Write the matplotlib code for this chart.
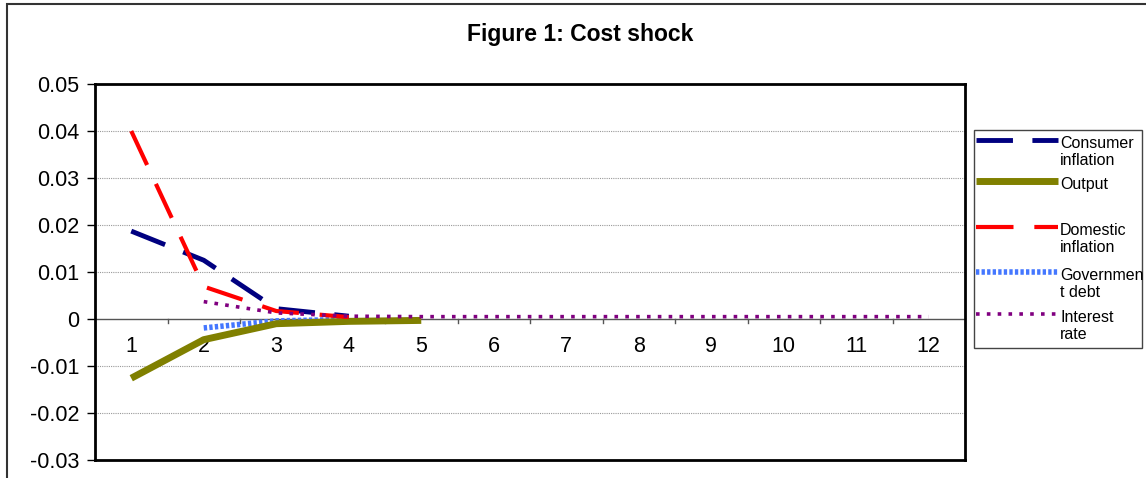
import matplotlib
matplotlib.use("Agg")
import matplotlib.pyplot as plt
from matplotlib.patches import Rectangle
from matplotlib.lines import Line2D

plt.rcParams['font.family'] = ['Liberation Sans', 'DejaVu Sans']

periods = list(range(1, 13))
consumer_inflation = [0.0187, 0.0125, 0.0022, 0.0006, None, None, None, None, None, None, None, None]
output = [-0.0126, -0.0044, -0.0010, -0.0005, -0.0003, None, None, None, None, None, None, None]
domestic_inflation = [0.0400, 0.0069, 0.0017, 0.0004, None, None, None, None, None, None, None, None]
government_debt = [None, -0.0019, -0.0004, -0.0001, None, None, None, None, None, None, None, None]
interest_rate = [None, 0.0037, 0.0013, 0.0006, 0.0005, 0.0005, 0.0005, 0.0005, 0.0005, 0.0005, 0.0005, 0.0005]
series_names = ['Consumer\ninflation', 'Output', 'Domestic\ninflation', 'Governmen\nt debt', 'Interest\nrate']
y_ticks = [-0.03, -0.02, -0.01, 0.0, 0.01, 0.02, 0.03, 0.04, 0.05]
y_labels = ['-0.03', '-0.02', '-0.01', '0', '0.01', '0.02', '0.03', '0.04', '0.05']

def clean(vals):
    return [float('nan') if v is None else v for v in vals]

styles = [
    dict(color='#000080', linewidth=3.5, linestyle=(0, (7.5, 4)), dash_capstyle='butt', solid_capstyle='butt', zorder=5),
    dict(color='#808000', linewidth=5, linestyle='-', solid_capstyle='butt', zorder=4),
    dict(color='#FF0000', linewidth=3, linestyle=(0, (9, 5)), dash_capstyle='butt', zorder=6),
    dict(color='#4477FF', linewidth=4, linestyle=(0, (0.6, 0.4)), dash_capstyle='butt', zorder=3),
    dict(color='#800080', linewidth=2.6, linestyle=(0, (1, 2)), dash_capstyle='butt', zorder=7),
]
data = [consumer_inflation, output, domestic_inflation, government_debt, interest_rate]

fig = plt.figure(figsize=(11.46, 4.78), dpi=100)
# outer frame
fig.patches.append(Rectangle((7/1146, -0.05), 1.2, 1 - 4/478 + 0.05, transform=fig.transFigure,
                             fill=False, edgecolor='#333333', linewidth=1.5))

ax = fig.add_axes([95/1146, 1 - 460/478, (965 - 95)/1146, (460 - 84)/478])
ax.set_xlim(0.5, 12.5)
ax.set_ylim(-0.03, 0.05)

for y in y_ticks[1:-1]:
    if y != 0:
        ax.axhline(y, color='#999999', linewidth=0.8, linestyle=(0, (1, 1)), zorder=1)
ax.axhline(0, color='#555555', linewidth=1.0, zorder=1)
for xb in [1.5 + i for i in range(11)]:
    ax.plot([xb, xb], [0, -0.0009], color='#555555', linewidth=1.0, zorder=1, clip_on=False)

for vals, st in zip(data, styles):
    ax.plot(periods, clean(vals), **st)

for sp in ax.spines.values():
    sp.set_linewidth(2)
    sp.set_color('black')

ax.set_yticks(y_ticks)
ax.set_yticklabels(y_labels, fontsize=15.5)
ax.tick_params(axis='y', length=6, width=1, direction='out', pad=5)
ax.set_xticks([])
for p in periods:
    ax.text(p, -0.0058, str(p), ha='center', va='center', fontsize=15.5)

fig.text(0.506, 1 - 34/478, 'Figure 1: Cost shock', ha='center', va='center', fontsize=16.5, fontweight='bold')

# legend (drawn in figure pixel coordinates)
W, H = 1146, 478
fig.patches.append(Rectangle((974/W, 1 - 348/H), (1142 - 974)/W, (348 - 130)/H, transform=fig.transFigure,
                             fill=False, edgecolor='#444444', linewidth=1.0))
handle_y = [140, 181, 227, 272, 314]
for name, st, hy in zip(series_names, styles, handle_y):
    s = dict(st)
    s.pop('zorder', None)
    fig.lines.append(Line2D([976/W, 1058/W], [1 - hy/H, 1 - hy/H], transform=fig.transFigure, **s))
    fig.text(1060/W, 1 - (hy - 4)/H, name, ha='left', va='top', fontsize=11.5, linespacing=1.2)

fig.savefig('out.png', dpi=100)
